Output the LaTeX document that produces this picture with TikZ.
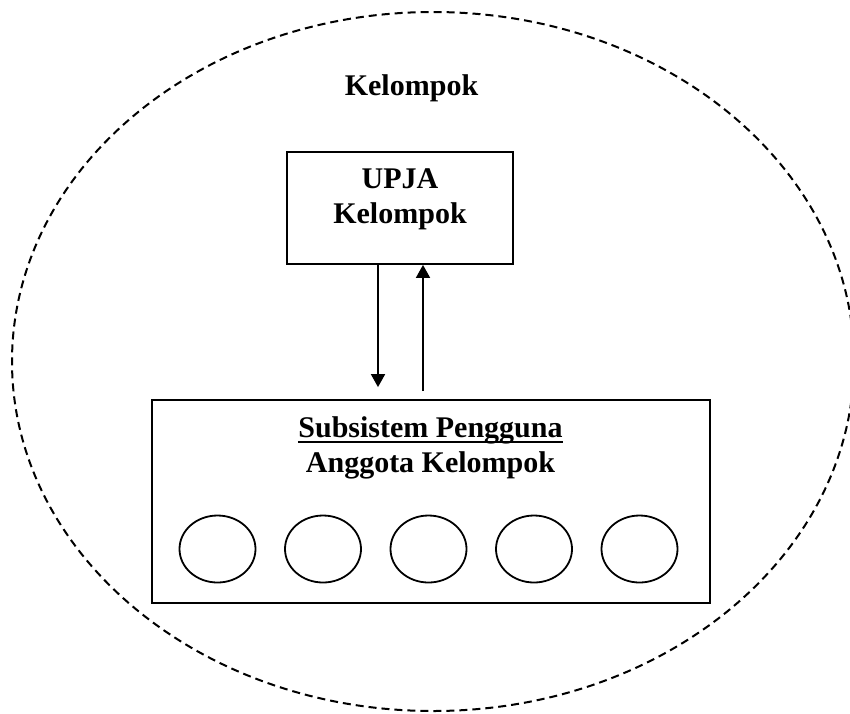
\documentclass[tikz,border=0pt]{standalone}
\usepackage{fontspec}
\setmainfont{Liberation Serif}
\usetikzlibrary{arrows.meta,shapes.geometric}
\begin{document}
\begin{tikzpicture}[x=0.5pt,y=-0.5pt,
  lbl/.style={font=\fontsize{15}{17.5}\selectfont\bfseries, inner sep=0pt, anchor=base},
  frame/.style={draw, line width=0.9pt, inner sep=0pt},
  member/.style={draw, ellipse, line width=0.9pt, minimum width=38pt, minimum height=33.5pt, inner sep=0pt},
  flow/.style={-{Triangle[length=6.5pt,width=7pt]}, line width=0.9pt},
  boundary/.style={draw, dash pattern=on 4pt off 2.5pt, line width=1pt}]
\useasboundingbox (0,0) rectangle (850,713);
\clip (0,0) rectangle (850,713);

% group boundary
\draw[boundary] (433,361.5) ellipse [x radius=210.5pt, y radius=174.75pt];
\node[lbl] (title) at (411.5,95) {Kelompok};

% UPJA box
\node[frame, minimum width=113pt, minimum height=56pt] (upja) at (400,208) {};
\node[lbl] (upja1) at (400,188) {UPJA};
\node[lbl] (upja2) at (400,223) {Kelompok};

% member subsystem box
\node[frame, minimum width=279pt, minimum height=101.5pt] (sub) at (431,501.5) {};
\node[lbl] (sub1) at (430.5,437) {Subsistem Pengguna};
\draw[line width=1pt] ([yshift=-2.6pt]sub1.base west) -- ([yshift=-2.6pt]sub1.base east);
\node[lbl] (sub2) at (430.5,472) {Anggota Kelompok};

% members
\foreach \i/\cx in {1/217.5,2/323,3/428.5,4/534,5/639.5}
  \node[member] (m\i) at (\cx,549) {};

% flows between UPJA and members
\draw[flow, shorten >=6pt] ([xshift=-11pt]upja.south) -- ([xshift=-11pt]upja.south |- sub.north);
\draw[flow, shorten <=4pt] ([xshift=11.5pt]upja.south |- sub.north) -- ([xshift=11.5pt]upja.south);
\end{tikzpicture}
\end{document}
